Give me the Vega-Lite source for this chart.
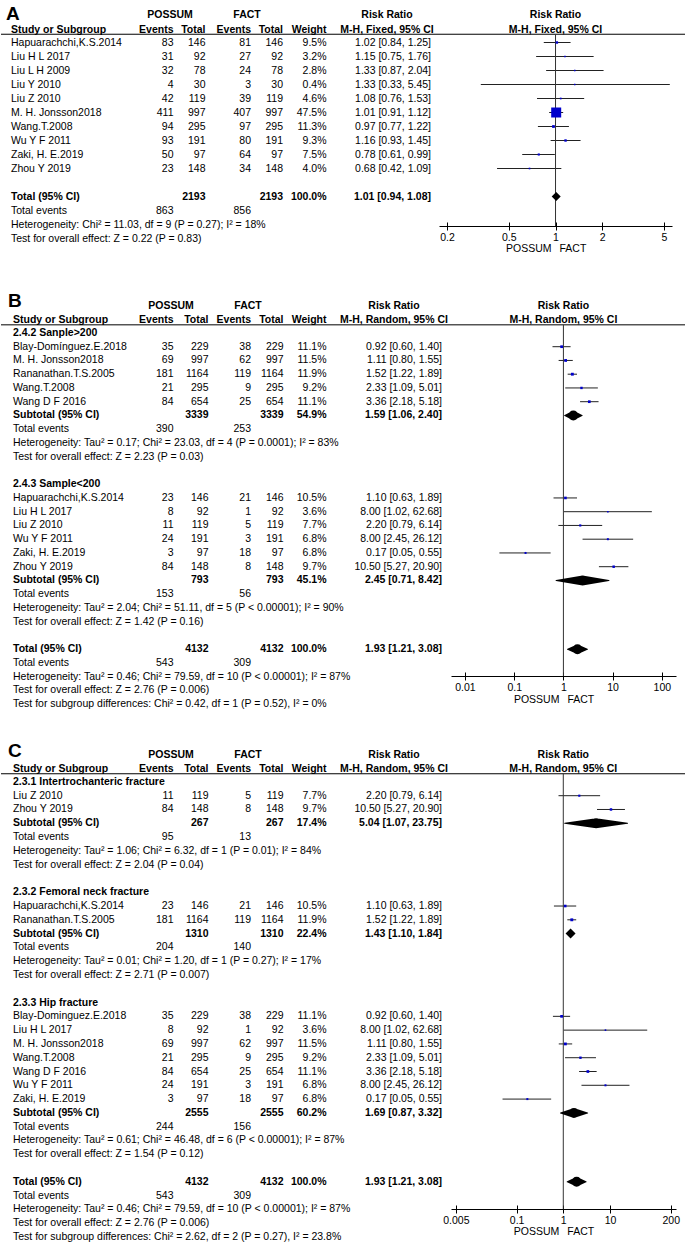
{
  "$schema": "https://vega.github.io/schema/vega-lite/v6.json",
  "padding": 0,
  "spacing": 0,
  "bounds": "flush",
  "datasets": {
    "A": [
      {"r": -0.64, "kind": "letter", "name": "A"},
      {"r": -0.95, "kind": "top", "p": "POSSUM", "f": "FACT", "ci": "Risk Ratio"},
      {"r": 0.08, "kind": "header", "name": "Study or Subgroup", "e1": "Events", "t1": "Total", "e2": "Events", "t2": "Total", "wt": "Weight", "ci": "M-H, Fixed, 95% CI"},
      {"r": 1, "kind": "study", "name": "Hapuarachchi,K.S.2014", "e1": 83, "t1": 146, "e2": 81, "t2": 146, "wt": "9.5%", "w": 0.095, "ci": "1.02 [0.84, 1.25]", "est": 1.02, "lo": 0.84, "hi": 1.25},
      {"r": 2, "kind": "study", "name": "Liu H L 2017", "e1": 31, "t1": 92, "e2": 27, "t2": 92, "wt": "3.2%", "w": 0.032, "ci": "1.15 [0.75, 1.76]", "est": 1.15, "lo": 0.75, "hi": 1.76},
      {"r": 3, "kind": "study", "name": "Liu L H 2009", "e1": 32, "t1": 78, "e2": 24, "t2": 78, "wt": "2.8%", "w": 0.028, "ci": "1.33 [0.87, 2.04]", "est": 1.33, "lo": 0.87, "hi": 2.04},
      {"r": 4, "kind": "study", "name": "Liu Y 2010", "e1": 4, "t1": 30, "e2": 3, "t2": 30, "wt": "0.4%", "w": 0.004, "ci": "1.33 [0.33, 5.45]", "est": 1.33, "lo": 0.33, "hi": 5.45},
      {"r": 5, "kind": "study", "name": "Liu Z 2010", "e1": 42, "t1": 119, "e2": 39, "t2": 119, "wt": "4.6%", "w": 0.046, "ci": "1.08 [0.76, 1.53]", "est": 1.08, "lo": 0.76, "hi": 1.53},
      {"r": 6, "kind": "study", "name": "M. H. Jonsson2018", "e1": 411, "t1": 997, "e2": 407, "t2": 997, "wt": "47.5%", "w": 0.475, "ci": "1.01 [0.91, 1.12]", "est": 1.01, "lo": 0.91, "hi": 1.12},
      {"r": 7, "kind": "study", "name": "Wang.T.2008", "e1": 94, "t1": 295, "e2": 97, "t2": 295, "wt": "11.3%", "w": 0.113, "ci": "0.97 [0.77, 1.22]", "est": 0.97, "lo": 0.77, "hi": 1.22},
      {"r": 8, "kind": "study", "name": "Wu Y F 2011", "e1": 93, "t1": 191, "e2": 80, "t2": 191, "wt": "9.3%", "w": 0.093, "ci": "1.16 [0.93, 1.45]", "est": 1.16, "lo": 0.93, "hi": 1.45},
      {"r": 9, "kind": "study", "name": "Zaki, H. E.2019", "e1": 50, "t1": 97, "e2": 64, "t2": 97, "wt": "7.5%", "w": 0.075, "ci": "0.78 [0.61, 0.99]", "est": 0.78, "lo": 0.61, "hi": 0.99},
      {"r": 10, "kind": "study", "name": "Zhou Y 2019", "e1": 23, "t1": 148, "e2": 34, "t2": 148, "wt": "4.0%", "w": 0.04, "ci": "0.68 [0.42, 1.09]", "est": 0.68, "lo": 0.42, "hi": 1.09},
      {"r": 12, "kind": "total", "name": "Total (95% CI)", "t1": 2193, "t2": 2193, "wt": "100.0%", "ci": "1.01 [0.94, 1.08]", "est": 1.01, "lo": 0.94, "hi": 1.08},
      {"r": 13, "kind": "info", "name": "Total events", "e1": 863, "e2": 856},
      {"r": 14, "kind": "info", "name": "Heterogeneity: Chi² = 11.03, df = 9 (P = 0.27); I² = 18%"},
      {"r": 15, "kind": "info", "name": "Test for overall effect: Z = 0.22 (P = 0.83)"}
    ],
    "B": [
      {"r": -0.92, "kind": "letter", "name": "B"},
      {"r": -0.95, "kind": "top", "p": "POSSUM", "f": "FACT", "ci": "Risk Ratio"},
      {"r": 0.08, "kind": "header", "name": "Study or Subgroup", "e1": "Events", "t1": "Total", "e2": "Events", "t2": "Total", "wt": "Weight", "ci": "M-H, Random, 95% CI"},
      {"r": 1, "kind": "group", "name": "2.4.2 Sanple>200"},
      {"r": 2, "kind": "study", "name": "Blay-Domínguez.E.2018", "e1": 35, "t1": 229, "e2": 38, "t2": 229, "wt": "11.1%", "w": 0.111, "ci": "0.92 [0.60, 1.40]", "est": 0.92, "lo": 0.6, "hi": 1.4},
      {"r": 3, "kind": "study", "name": "M. H. Jonsson2018", "e1": 69, "t1": 997, "e2": 62, "t2": 997, "wt": "11.5%", "w": 0.115, "ci": "1.11 [0.80, 1.55]", "est": 1.11, "lo": 0.8, "hi": 1.55},
      {"r": 4, "kind": "study", "name": "Rananathan.T.S.2005", "e1": 181, "t1": 1164, "e2": 119, "t2": 1164, "wt": "11.9%", "w": 0.119, "ci": "1.52 [1.22, 1.89]", "est": 1.52, "lo": 1.22, "hi": 1.89},
      {"r": 5, "kind": "study", "name": "Wang.T.2008", "e1": 21, "t1": 295, "e2": 9, "t2": 295, "wt": "9.2%", "w": 0.092, "ci": "2.33 [1.09, 5.01]", "est": 2.33, "lo": 1.09, "hi": 5.01},
      {"r": 6, "kind": "study", "name": "Wang D F 2016", "e1": 84, "t1": 654, "e2": 25, "t2": 654, "wt": "11.1%", "w": 0.111, "ci": "3.36 [2.18, 5.18]", "est": 3.36, "lo": 2.18, "hi": 5.18},
      {"r": 7, "kind": "subtotal", "name": "Subtotal (95% CI)", "t1": 3339, "t2": 3339, "wt": "54.9%", "ci": "1.59 [1.06, 2.40]", "est": 1.59, "lo": 1.06, "hi": 2.4},
      {"r": 8, "kind": "info", "name": "Total events", "e1": 390, "e2": 253},
      {"r": 9, "kind": "info", "name": "Heterogeneity: Tau² = 0.17; Chi² = 23.03, df = 4 (P = 0.0001); I² = 83%"},
      {"r": 10, "kind": "info", "name": "Test for overall effect: Z = 2.23 (P = 0.03)"},
      {"r": 12, "kind": "group", "name": "2.4.3 Sample<200"},
      {"r": 13, "kind": "study", "name": "Hapuarachchi,K.S.2014", "e1": 23, "t1": 146, "e2": 21, "t2": 146, "wt": "10.5%", "w": 0.105, "ci": "1.10 [0.63, 1.89]", "est": 1.1, "lo": 0.63, "hi": 1.89},
      {"r": 14, "kind": "study", "name": "Liu H L 2017", "e1": 8, "t1": 92, "e2": 1, "t2": 92, "wt": "3.6%", "w": 0.036, "ci": "8.00 [1.02, 62.68]", "est": 8.0, "lo": 1.02, "hi": 62.68},
      {"r": 15, "kind": "study", "name": "Liu Z 2010", "e1": 11, "t1": 119, "e2": 5, "t2": 119, "wt": "7.7%", "w": 0.077, "ci": "2.20 [0.79, 6.14]", "est": 2.2, "lo": 0.79, "hi": 6.14},
      {"r": 16, "kind": "study", "name": "Wu Y F 2011", "e1": 24, "t1": 191, "e2": 3, "t2": 191, "wt": "6.8%", "w": 0.068, "ci": "8.00 [2.45, 26.12]", "est": 8.0, "lo": 2.45, "hi": 26.12},
      {"r": 17, "kind": "study", "name": "Zaki, H. E.2019", "e1": 3, "t1": 97, "e2": 18, "t2": 97, "wt": "6.8%", "w": 0.068, "ci": "0.17 [0.05, 0.55]", "est": 0.17, "lo": 0.05, "hi": 0.55},
      {"r": 18, "kind": "study", "name": "Zhou Y 2019", "e1": 84, "t1": 148, "e2": 8, "t2": 148, "wt": "9.7%", "w": 0.097, "ci": "10.50 [5.27, 20.90]", "est": 10.5, "lo": 5.27, "hi": 20.9},
      {"r": 19, "kind": "subtotal", "name": "Subtotal (95% CI)", "t1": 793, "t2": 793, "wt": "45.1%", "ci": "2.45 [0.71, 8.42]", "est": 2.45, "lo": 0.71, "hi": 8.42},
      {"r": 20, "kind": "info", "name": "Total events", "e1": 153, "e2": 56},
      {"r": 21, "kind": "info", "name": "Heterogeneity: Tau² = 2.04; Chi² = 51.11, df = 5 (P < 0.00001); I² = 90%"},
      {"r": 22, "kind": "info", "name": "Test for overall effect: Z = 1.42 (P = 0.16)"},
      {"r": 24, "kind": "total", "name": "Total (95% CI)", "t1": 4132, "t2": 4132, "wt": "100.0%", "ci": "1.93 [1.21, 3.08]", "est": 1.93, "lo": 1.21, "hi": 3.08},
      {"r": 25, "kind": "info", "name": "Total events", "e1": 543, "e2": 309},
      {"r": 26, "kind": "info", "name": "Heterogeneity: Tau² = 0.46; Chi² = 79.59, df = 10 (P < 0.00001); I² = 87%"},
      {"r": 27, "kind": "info", "name": "Test for overall effect: Z = 2.76 (P = 0.006)"},
      {"r": 28, "kind": "info", "name": "Test for subgroup differences: Chi² = 0.42, df = 1 (P = 0.52), I² = 0%"}
    ],
    "C": [
      {"r": -0.84, "kind": "letter", "name": "C"},
      {"r": -0.95, "kind": "top", "p": "POSSUM", "f": "FACT", "ci": "Risk Ratio"},
      {"r": 0.08, "kind": "header", "name": "Study or Subgroup", "e1": "Events", "t1": "Total", "e2": "Events", "t2": "Total", "wt": "Weight", "ci": "M-H, Random, 95% CI"},
      {"r": 1, "kind": "group", "name": "2.3.1 Intertrochanteric fracture"},
      {"r": 2, "kind": "study", "name": "Liu Z 2010", "e1": 11, "t1": 119, "e2": 5, "t2": 119, "wt": "7.7%", "w": 0.077, "ci": "2.20 [0.79, 6.14]", "est": 2.2, "lo": 0.79, "hi": 6.14},
      {"r": 3, "kind": "study", "name": "Zhou Y 2019", "e1": 84, "t1": 148, "e2": 8, "t2": 148, "wt": "9.7%", "w": 0.097, "ci": "10.50 [5.27, 20.90]", "est": 10.5, "lo": 5.27, "hi": 20.9},
      {"r": 4, "kind": "subtotal", "name": "Subtotal (95% CI)", "t1": 267, "t2": 267, "wt": "17.4%", "ci": "5.04 [1.07, 23.75]", "est": 5.04, "lo": 1.07, "hi": 23.75},
      {"r": 5, "kind": "info", "name": "Total events", "e1": 95, "e2": 13},
      {"r": 6, "kind": "info", "name": "Heterogeneity: Tau² = 1.06; Chi² = 6.32, df = 1 (P = 0.01); I² = 84%"},
      {"r": 7, "kind": "info", "name": "Test for overall effect: Z = 2.04 (P = 0.04)"},
      {"r": 9, "kind": "group", "name": "2.3.2 Femoral neck fracture"},
      {"r": 10, "kind": "study", "name": "Hapuarachchi,K.S.2014", "e1": 23, "t1": 146, "e2": 21, "t2": 146, "wt": "10.5%", "w": 0.105, "ci": "1.10 [0.63, 1.89]", "est": 1.1, "lo": 0.63, "hi": 1.89},
      {"r": 11, "kind": "study", "name": "Rananathan.T.S.2005", "e1": 181, "t1": 1164, "e2": 119, "t2": 1164, "wt": "11.9%", "w": 0.119, "ci": "1.52 [1.22, 1.89]", "est": 1.52, "lo": 1.22, "hi": 1.89},
      {"r": 12, "kind": "subtotal", "name": "Subtotal (95% CI)", "t1": 1310, "t2": 1310, "wt": "22.4%", "ci": "1.43 [1.10, 1.84]", "est": 1.43, "lo": 1.1, "hi": 1.84},
      {"r": 13, "kind": "info", "name": "Total events", "e1": 204, "e2": 140},
      {"r": 14, "kind": "info", "name": "Heterogeneity: Tau² = 0.01; Chi² = 1.20, df = 1 (P = 0.27); I² = 17%"},
      {"r": 15, "kind": "info", "name": "Test for overall effect: Z = 2.71 (P = 0.007)"},
      {"r": 17, "kind": "group", "name": "2.3.3 Hip fracture"},
      {"r": 18, "kind": "study", "name": "Blay-Dominguez.E.2018", "e1": 35, "t1": 229, "e2": 38, "t2": 229, "wt": "11.1%", "w": 0.111, "ci": "0.92 [0.60, 1.40]", "est": 0.92, "lo": 0.6, "hi": 1.4},
      {"r": 19, "kind": "study", "name": "Liu H L 2017", "e1": 8, "t1": 92, "e2": 1, "t2": 92, "wt": "3.6%", "w": 0.036, "ci": "8.00 [1.02, 62.68]", "est": 8.0, "lo": 1.02, "hi": 62.68},
      {"r": 20, "kind": "study", "name": "M. H. Jonsson2018", "e1": 69, "t1": 997, "e2": 62, "t2": 997, "wt": "11.5%", "w": 0.115, "ci": "1.11 [0.80, 1.55]", "est": 1.11, "lo": 0.8, "hi": 1.55},
      {"r": 21, "kind": "study", "name": "Wang.T.2008", "e1": 21, "t1": 295, "e2": 9, "t2": 295, "wt": "9.2%", "w": 0.092, "ci": "2.33 [1.09, 5.01]", "est": 2.33, "lo": 1.09, "hi": 5.01},
      {"r": 22, "kind": "study", "name": "Wang D F 2016", "e1": 84, "t1": 654, "e2": 25, "t2": 654, "wt": "11.1%", "w": 0.111, "ci": "3.36 [2.18, 5.18]", "est": 3.36, "lo": 2.18, "hi": 5.18},
      {"r": 23, "kind": "study", "name": "Wu Y F 2011", "e1": 24, "t1": 191, "e2": 3, "t2": 191, "wt": "6.8%", "w": 0.068, "ci": "8.00 [2.45, 26.12]", "est": 8.0, "lo": 2.45, "hi": 26.12},
      {"r": 24, "kind": "study", "name": "Zaki, H. E.2019", "e1": 3, "t1": 97, "e2": 18, "t2": 97, "wt": "6.8%", "w": 0.068, "ci": "0.17 [0.05, 0.55]", "est": 0.17, "lo": 0.05, "hi": 0.55},
      {"r": 25, "kind": "subtotal", "name": "Subtotal (95% CI)", "t1": 2555, "t2": 2555, "wt": "60.2%", "ci": "1.69 [0.87, 3.32]", "est": 1.69, "lo": 0.87, "hi": 3.32},
      {"r": 26, "kind": "info", "name": "Total events", "e1": 244, "e2": 156},
      {"r": 27, "kind": "info", "name": "Heterogeneity: Tau² = 0.61; Chi² = 46.48, df = 6 (P < 0.00001); I² = 87%"},
      {"r": 28, "kind": "info", "name": "Test for overall effect: Z = 1.54 (P = 0.12)"},
      {"r": 30, "kind": "total", "name": "Total (95% CI)", "t1": 4132, "t2": 4132, "wt": "100.0%", "ci": "1.93 [1.21, 3.08]", "est": 1.93, "lo": 1.21, "hi": 3.08},
      {"r": 31, "kind": "info", "name": "Total events", "e1": 543, "e2": 309},
      {"r": 32, "kind": "info", "name": "Heterogeneity: Tau² = 0.46; Chi² = 79.59, df = 10 (P < 0.00001); I² = 87%"},
      {"r": 33, "kind": "info", "name": "Test for overall effect: Z = 2.76 (P = 0.006)"},
      {"r": 34, "kind": "info", "name": "Test for subgroup differences: Chi² = 2.62, df = 2 (P = 0.27), I² = 23.8%"}
    ]
  },
  "vconcat": [
    {
      "width": 685, "height": 226,
      "data": {"name": "A"},
      "resolve": {"scale": {"x": "independent"}},
      "layer": [
        {"transform": [{"filter": "datum.kind == 'letter'"}],
         "mark": {"type": "text", "align": "left", "baseline": "alphabetic", "fontSize": 19, "fontWeight": "bold"},
         "encoding": {
           "x": {"datum": "c", "type": "nominal", "scale": {"type": "point", "range": [5, 5]}, "axis": null},
           "y": {"field": "r", "type": "quantitative", "scale": {"domain": [-2.036, 14.107], "reverse": true, "nice": false, "zero": false}, "axis": null},
           "text": {"field": "name", "type": "nominal"}}},
        {"transform": [{"filter": "isValid(datum.name) && datum.kind != 'letter'"}],
         "mark": {"type": "text", "align": "left", "fontWeight": {"expr": "datum.kind == 'study' || datum.kind == 'info' ? 'normal' : 'bold'"}},
         "encoding": {
           "x": {"datum": "c", "type": "nominal", "scale": {"type": "point", "range": [10, 10]}, "axis": null},
           "y": {"field": "r", "type": "quantitative", "axis": null},
           "text": {"field": "name", "type": "nominal"}}},
        {"transform": [{"filter": "datum.kind == 'top'"}, {"fold": ["p", "f"], "as": ["key", "value"]}],
         "mark": {"type": "text", "align": "center", "fontWeight": "bold"},
         "encoding": {
           "x": {"field": "key", "type": "nominal", "scale": {"type": "point", "domain": ["p", "f"], "range": [169, 246], "padding": 0}, "axis": null},
           "y": {"field": "r", "type": "quantitative", "axis": null},
           "text": {"field": "value", "type": "nominal"}}},
        {"transform": [{"filter": "datum.kind == 'top' || datum.kind == 'header'"}],
         "mark": {"type": "text", "align": "center", "fontWeight": "bold"},
         "encoding": {
           "x": {"datum": "c", "type": "nominal", "scale": {"type": "point", "range": [386, 386]}, "axis": null},
           "y": {"field": "r", "type": "quantitative", "axis": null},
           "text": {"field": "ci", "type": "nominal"}}},
        {"transform": [{"fold": ["e1", "t1"], "as": ["key", "value"]}, {"filter": "isValid(datum.value)"}],
         "mark": {"type": "text", "align": "right", "fontWeight": {"expr": "datum.kind == 'study' || datum.kind == 'info' ? 'normal' : 'bold'"}},
         "encoding": {
           "x": {"field": "key", "type": "nominal", "scale": {"type": "point", "domain": ["e1", "t1"], "range": [172.5, 204.5], "padding": 0}, "axis": null},
           "y": {"field": "r", "type": "quantitative", "axis": null},
           "text": {"field": "value", "type": "nominal"}}},
        {"transform": [{"fold": ["e2", "t2"], "as": ["key", "value"]}, {"filter": "isValid(datum.value)"}],
         "mark": {"type": "text", "align": "right", "fontWeight": {"expr": "datum.kind == 'study' || datum.kind == 'info' ? 'normal' : 'bold'"}},
         "encoding": {
           "x": {"field": "key", "type": "nominal", "scale": {"type": "point", "domain": ["e2", "t2"], "range": [250, 282], "padding": 0}, "axis": null},
           "y": {"field": "r", "type": "quantitative", "axis": null},
           "text": {"field": "value", "type": "nominal"}}},
        {"transform": [{"fold": ["wt", "ci"], "as": ["key", "value"]}, {"filter": "isValid(datum.value) && !(datum.key == 'ci' && (datum.kind == 'header' || datum.kind == 'top'))"}],
         "mark": {"type": "text", "align": "right", "fontWeight": {"expr": "datum.kind == 'study' || datum.kind == 'info' ? 'normal' : 'bold'"}},
         "encoding": {
           "x": {"field": "key", "type": "nominal", "scale": {"type": "point", "domain": ["wt", "ci"], "range": [325.5, 430], "padding": 0}, "axis": null},
           "y": {"field": "r", "type": "quantitative", "axis": null},
           "text": {"field": "value", "type": "nominal"}}},
        {"resolve": {"scale": {"size": "independent"}, "axis": {"x": "independent"}},
         "layer": [
          {"data": {"values": [{}]}, "mark": {"type": "rule", "color": "#000", "strokeWidth": 1},
           "encoding": {"y": {"datum": 0.41, "axis": null}}},
          {"transform": [{"filter": "datum.kind == 'study'"}], "mark": {"type": "rule", "color": "#222", "strokeWidth": 1},
           "encoding": {
             "x": {"field": "lo", "type": "quantitative", "scale": {"type": "log", "domain": [0.1775, 5.63], "range": [438, 671], "nice": false},
                   "axis": {"orient": "bottom", "values": [0.2, 0.5, 1, 2, 5], "format": "~g", "title": null, "grid": false, "tickSize": 4, "labelPadding": 2, "domainColor": "#000", "tickColor": "#000", "labelColor": "#000", "labelFontSize": 10.5, "labelFont": "Liberation Sans", "labelFlush": false, "labelOverlap": false}},
             "x2": {"field": "hi"},
             "y": {"field": "r", "type": "quantitative", "axis": null}}},
          {"data": {"values": [{}]}, "mark": {"type": "rule", "color": "#333", "strokeWidth": 1},
           "encoding": {"x": {"datum": 1, "axis": {"orient": "bottom", "values": [0.2, 0.5, 1, 2, 5], "tickSize": -4, "labels": false, "domain": false, "title": null, "grid": false, "tickColor": "#000"}}, "y": {"datum": 0.41, "axis": null}, "y2": {"datum": 14.107}}},
          {"transform": [{"filter": "datum.kind == 'study'"}], "mark": {"type": "point", "shape": "square", "filled": true, "color": "#0000cc", "opacity": 1},
           "encoding": {
             "x": {"field": "est", "type": "quantitative", "axis": null},
             "y": {"field": "r", "type": "quantitative", "axis": null},
             "size": {"field": "w", "type": "quantitative", "scale": {"type": "pow", "exponent": 2, "domain": [0, 0.475], "range": [2, 100]}, "legend": null}}},
          {"transform": [{"filter": "(datum.kind == 'subtotal' || datum.kind == 'total') && datum.hi / datum.lo >= 2"}, {"fold": ["lo", "est", "hi"], "as": ["key", "value"]}],
           "mark": {"type": "trail", "color": "#000"},
           "encoding": {
             "x": {"field": "value", "type": "quantitative", "axis": null},
             "y": {"field": "r", "type": "quantitative", "axis": null},
             "detail": {"field": "r", "type": "nominal"},
             "size": {"field": "key", "type": "ordinal", "scale": {"type": "ordinal", "domain": ["lo", "est", "hi"], "range": [0, 9, 0]}, "legend": null}}},
          {"transform": [{"filter": "(datum.kind == 'subtotal' || datum.kind == 'total') && datum.hi / datum.lo < 2"}],
           "mark": {"type": "point", "shape": "diamond", "filled": true, "color": "#000", "opacity": 1, "size": 81},
           "encoding": {
             "x": {"field": "est", "type": "quantitative", "axis": null},
             "y": {"field": "r", "type": "quantitative", "axis": null}}},
          {"transform": [{"filter": "datum.kind == 'top' || datum.kind == 'header'"}], "mark": {"type": "text", "align": "center", "fontWeight": "bold"},
           "encoding": {"x": {"datum": 1, "axis": null}, "y": {"field": "r", "type": "quantitative", "axis": null}, "text": {"field": "ci", "type": "nominal"}}},
          {"data": {"values": [{}]}, "mark": {"type": "text", "text": "POSSUM", "align": "right", "dx": -4},
           "encoding": {"x": {"datum": 1, "axis": null}, "y": {"datum": 15.75, "axis": null}}},
          {"data": {"values": [{}]}, "mark": {"type": "text", "text": "FACT", "align": "left", "dx": 4},
           "encoding": {"x": {"datum": 1, "axis": null}, "y": {"datum": 15.75, "axis": null}}}
         ]}
      ]
    },
    {
      "width": 685, "height": 450,
      "data": {"name": "B"},
      "resolve": {"scale": {"x": "independent"}},
      "layer": [
        {"transform": [{"filter": "datum.kind == 'letter'"}],
         "mark": {"type": "text", "align": "left", "baseline": "alphabetic", "fontSize": 19, "fontWeight": "bold"},
         "encoding": {
           "x": {"datum": "c", "type": "nominal", "scale": {"type": "point", "range": [7, 7]}, "axis": null},
           "y": {"field": "r", "type": "quantitative", "scale": {"domain": [-6.778, 25.949], "reverse": true, "nice": false, "zero": false}, "axis": null},
           "text": {"field": "name", "type": "nominal"}}},
        {"transform": [{"filter": "isValid(datum.name) && datum.kind != 'letter'"}],
         "mark": {"type": "text", "align": "left", "fontWeight": {"expr": "datum.kind == 'study' || datum.kind == 'info' ? 'normal' : 'bold'"}},
         "encoding": {
           "x": {"datum": "c", "type": "nominal", "scale": {"type": "point", "range": [12, 12]}, "axis": null},
           "y": {"field": "r", "type": "quantitative", "axis": null},
           "text": {"field": "name", "type": "nominal"}}},
        {"transform": [{"filter": "datum.kind == 'top'"}, {"fold": ["p", "f"], "as": ["key", "value"]}],
         "mark": {"type": "text", "align": "center", "fontWeight": "bold"},
         "encoding": {
           "x": {"field": "key", "type": "nominal", "scale": {"type": "point", "domain": ["p", "f"], "range": [170, 247], "padding": 0}, "axis": null},
           "y": {"field": "r", "type": "quantitative", "axis": null},
           "text": {"field": "value", "type": "nominal"}}},
        {"transform": [{"filter": "datum.kind == 'top' || datum.kind == 'header'"}],
         "mark": {"type": "text", "align": "center", "fontWeight": "bold"},
         "encoding": {
           "x": {"datum": "c", "type": "nominal", "scale": {"type": "point", "range": [393, 393]}, "axis": null},
           "y": {"field": "r", "type": "quantitative", "axis": null},
           "text": {"field": "ci", "type": "nominal"}}},
        {"transform": [{"fold": ["e1", "t1"], "as": ["key", "value"]}, {"filter": "isValid(datum.value)"}],
         "mark": {"type": "text", "align": "right", "fontWeight": {"expr": "datum.kind == 'study' || datum.kind == 'info' ? 'normal' : 'bold'"}},
         "encoding": {
           "x": {"field": "key", "type": "nominal", "scale": {"type": "point", "domain": ["e1", "t1"], "range": [172.5, 207.5], "padding": 0}, "axis": null},
           "y": {"field": "r", "type": "quantitative", "axis": null},
           "text": {"field": "value", "type": "nominal"}}},
        {"transform": [{"fold": ["e2", "t2"], "as": ["key", "value"]}, {"filter": "isValid(datum.value)"}],
         "mark": {"type": "text", "align": "right", "fontWeight": {"expr": "datum.kind == 'study' || datum.kind == 'info' ? 'normal' : 'bold'"}},
         "encoding": {
           "x": {"field": "key", "type": "nominal", "scale": {"type": "point", "domain": ["e2", "t2"], "range": [250, 282.5], "padding": 0}, "axis": null},
           "y": {"field": "r", "type": "quantitative", "axis": null},
           "text": {"field": "value", "type": "nominal"}}},
        {"transform": [{"fold": ["wt", "ci"], "as": ["key", "value"]}, {"filter": "isValid(datum.value) && !(datum.key == 'ci' && (datum.kind == 'header' || datum.kind == 'top'))"}],
         "mark": {"type": "text", "align": "right", "fontWeight": {"expr": "datum.kind == 'study' || datum.kind == 'info' ? 'normal' : 'bold'"}},
         "encoding": {
           "x": {"field": "key", "type": "nominal", "scale": {"type": "point", "domain": ["wt", "ci"], "range": [325.5, 441], "padding": 0}, "axis": null},
           "y": {"field": "r", "type": "quantitative", "axis": null},
           "text": {"field": "value", "type": "nominal"}}},
        {"resolve": {"scale": {"size": "independent"}, "axis": {"x": "independent"}},
         "layer": [
          {"data": {"values": [{}]}, "mark": {"type": "rule", "color": "#000", "strokeWidth": 1},
           "encoding": {"y": {"datum": 0.41, "axis": null}}},
          {"transform": [{"filter": "datum.kind == 'study'"}], "mark": {"type": "rule", "color": "#222", "strokeWidth": 1},
           "encoding": {
             "x": {"field": "lo", "type": "quantitative", "scale": {"type": "log", "domain": [0.0052, 194], "range": [450, 675], "nice": false},
                   "axis": {"orient": "bottom", "values": [0.01, 0.1, 1, 10, 100], "format": "~g", "title": null, "grid": false, "tickSize": 4, "labelPadding": 2, "domainColor": "#000", "tickColor": "#000", "labelColor": "#000", "labelFontSize": 10.5, "labelFont": "Liberation Sans", "labelFlush": false, "labelOverlap": false}},
             "x2": {"field": "hi"},
             "y": {"field": "r", "type": "quantitative", "axis": null}}},
          {"data": {"values": [{}]}, "mark": {"type": "rule", "color": "#333", "strokeWidth": 1},
           "encoding": {"x": {"datum": 1, "axis": {"orient": "bottom", "values": [0.01, 0.1, 1, 10, 100], "tickSize": -4, "labels": false, "domain": false, "title": null, "grid": false, "tickColor": "#000"}}, "y": {"datum": 0.41, "axis": null}, "y2": {"datum": 25.949}}},
          {"transform": [{"filter": "datum.kind == 'study'"}], "mark": {"type": "point", "shape": "square", "filled": true, "color": "#0000cc", "opacity": 1},
           "encoding": {
             "x": {"field": "est", "type": "quantitative", "axis": null},
             "y": {"field": "r", "type": "quantitative", "axis": null},
             "size": {"field": "w", "type": "quantitative", "scale": {"type": "pow", "exponent": 2, "domain": [0, 0.475], "range": [2, 100]}, "legend": null}}},
          {"transform": [{"filter": "(datum.kind == 'subtotal' || datum.kind == 'total') && datum.hi / datum.lo >= 2"}, {"fold": ["lo", "est", "hi"], "as": ["key", "value"]}],
           "mark": {"type": "trail", "color": "#000"},
           "encoding": {
             "x": {"field": "value", "type": "quantitative", "axis": null},
             "y": {"field": "r", "type": "quantitative", "axis": null},
             "detail": {"field": "r", "type": "nominal"},
             "size": {"field": "key", "type": "ordinal", "scale": {"type": "ordinal", "domain": ["lo", "est", "hi"], "range": [0, 10, 0]}, "legend": null}}},
          {"transform": [{"filter": "(datum.kind == 'subtotal' || datum.kind == 'total') && datum.hi / datum.lo < 2"}],
           "mark": {"type": "point", "shape": "diamond", "filled": true, "color": "#000", "opacity": 1, "size": 100},
           "encoding": {
             "x": {"field": "est", "type": "quantitative", "axis": null},
             "y": {"field": "r", "type": "quantitative", "axis": null}}},
          {"transform": [{"filter": "datum.kind == 'top' || datum.kind == 'header'"}], "mark": {"type": "text", "align": "center", "fontWeight": "bold"},
           "encoding": {"x": {"datum": 1, "axis": null}, "y": {"field": "r", "type": "quantitative", "axis": null}, "text": {"field": "ci", "type": "nominal"}}},
          {"data": {"values": [{}]}, "mark": {"type": "text", "text": "POSSUM", "align": "right", "dx": -4},
           "encoding": {"x": {"datum": 1, "axis": null}, "y": {"datum": 27.69, "axis": null}}},
          {"data": {"values": [{}]}, "mark": {"type": "text", "text": "FACT", "align": "left", "dx": 4},
           "encoding": {"x": {"datum": 1, "axis": null}, "y": {"datum": 27.69, "axis": null}}}
         ]}
      ]
    },
    {
      "width": 685, "height": 533,
      "data": {"name": "C"},
      "resolve": {"scale": {"x": "independent"}},
      "layer": [
        {"transform": [{"filter": "datum.kind == 'letter'"}],
         "mark": {"type": "text", "align": "left", "baseline": "alphabetic", "fontSize": 19, "fontWeight": "bold"},
         "encoding": {
           "x": {"datum": "c", "type": "nominal", "scale": {"type": "point", "range": [7, 7]}, "axis": null},
           "y": {"field": "r", "type": "quantitative", "scale": {"domain": [-6.679, 31.97], "reverse": true, "nice": false, "zero": false}, "axis": null},
           "text": {"field": "name", "type": "nominal"}}},
        {"transform": [{"filter": "isValid(datum.name) && datum.kind != 'letter'"}],
         "mark": {"type": "text", "align": "left", "fontWeight": {"expr": "datum.kind == 'study' || datum.kind == 'info' ? 'normal' : 'bold'"}},
         "encoding": {
           "x": {"datum": "c", "type": "nominal", "scale": {"type": "point", "range": [12, 12]}, "axis": null},
           "y": {"field": "r", "type": "quantitative", "axis": null},
           "text": {"field": "name", "type": "nominal"}}},
        {"transform": [{"filter": "datum.kind == 'top'"}, {"fold": ["p", "f"], "as": ["key", "value"]}],
         "mark": {"type": "text", "align": "center", "fontWeight": "bold"},
         "encoding": {
           "x": {"field": "key", "type": "nominal", "scale": {"type": "point", "domain": ["p", "f"], "range": [170, 247], "padding": 0}, "axis": null},
           "y": {"field": "r", "type": "quantitative", "axis": null},
           "text": {"field": "value", "type": "nominal"}}},
        {"transform": [{"filter": "datum.kind == 'top' || datum.kind == 'header'"}],
         "mark": {"type": "text", "align": "center", "fontWeight": "bold"},
         "encoding": {
           "x": {"datum": "c", "type": "nominal", "scale": {"type": "point", "range": [393, 393]}, "axis": null},
           "y": {"field": "r", "type": "quantitative", "axis": null},
           "text": {"field": "ci", "type": "nominal"}}},
        {"transform": [{"fold": ["e1", "t1"], "as": ["key", "value"]}, {"filter": "isValid(datum.value)"}],
         "mark": {"type": "text", "align": "right", "fontWeight": {"expr": "datum.kind == 'study' || datum.kind == 'info' ? 'normal' : 'bold'"}},
         "encoding": {
           "x": {"field": "key", "type": "nominal", "scale": {"type": "point", "domain": ["e1", "t1"], "range": [172.5, 207.5], "padding": 0}, "axis": null},
           "y": {"field": "r", "type": "quantitative", "axis": null},
           "text": {"field": "value", "type": "nominal"}}},
        {"transform": [{"fold": ["e2", "t2"], "as": ["key", "value"]}, {"filter": "isValid(datum.value)"}],
         "mark": {"type": "text", "align": "right", "fontWeight": {"expr": "datum.kind == 'study' || datum.kind == 'info' ? 'normal' : 'bold'"}},
         "encoding": {
           "x": {"field": "key", "type": "nominal", "scale": {"type": "point", "domain": ["e2", "t2"], "range": [250, 282.5], "padding": 0}, "axis": null},
           "y": {"field": "r", "type": "quantitative", "axis": null},
           "text": {"field": "value", "type": "nominal"}}},
        {"transform": [{"fold": ["wt", "ci"], "as": ["key", "value"]}, {"filter": "isValid(datum.value) && !(datum.key == 'ci' && (datum.kind == 'header' || datum.kind == 'top'))"}],
         "mark": {"type": "text", "align": "right", "fontWeight": {"expr": "datum.kind == 'study' || datum.kind == 'info' ? 'normal' : 'bold'"}},
         "encoding": {
           "x": {"field": "key", "type": "nominal", "scale": {"type": "point", "domain": ["wt", "ci"], "range": [325.5, 441], "padding": 0}, "axis": null},
           "y": {"field": "r", "type": "quantitative", "axis": null},
           "text": {"field": "value", "type": "nominal"}}},
        {"resolve": {"scale": {"size": "independent"}, "axis": {"x": "independent"}},
         "layer": [
          {"data": {"values": [{}]}, "mark": {"type": "rule", "color": "#000", "strokeWidth": 1},
           "encoding": {"y": {"datum": 0.41, "axis": null}}},
          {"transform": [{"filter": "datum.kind == 'study'"}], "mark": {"type": "rule", "color": "#222", "strokeWidth": 1},
           "encoding": {
             "x": {"field": "lo", "type": "quantitative", "scale": {"type": "log", "domain": [0.00394, 259], "range": [450, 675], "nice": false},
                   "axis": {"orient": "bottom", "values": [0.005, 0.1, 1, 10, 200], "format": "~g", "title": null, "grid": false, "tickSize": 4, "labelPadding": 2, "domainColor": "#000", "tickColor": "#000", "labelColor": "#000", "labelFontSize": 10.5, "labelFont": "Liberation Sans", "labelFlush": false, "labelOverlap": false}},
             "x2": {"field": "hi"},
             "y": {"field": "r", "type": "quantitative", "axis": null}}},
          {"data": {"values": [{}]}, "mark": {"type": "rule", "color": "#333", "strokeWidth": 1},
           "encoding": {"x": {"datum": 1, "axis": {"orient": "bottom", "values": [0.005, 0.1, 1, 10, 200], "tickSize": -4, "labels": false, "domain": false, "title": null, "grid": false, "tickColor": "#000"}}, "y": {"datum": 0.41, "axis": null}, "y2": {"datum": 31.97}}},
          {"transform": [{"filter": "datum.kind == 'study'"}], "mark": {"type": "point", "shape": "square", "filled": true, "color": "#0000cc", "opacity": 1},
           "encoding": {
             "x": {"field": "est", "type": "quantitative", "axis": null},
             "y": {"field": "r", "type": "quantitative", "axis": null},
             "size": {"field": "w", "type": "quantitative", "scale": {"type": "pow", "exponent": 2, "domain": [0, 0.475], "range": [2, 100]}, "legend": null}}},
          {"transform": [{"filter": "(datum.kind == 'subtotal' || datum.kind == 'total') && datum.hi / datum.lo >= 2"}, {"fold": ["lo", "est", "hi"], "as": ["key", "value"]}],
           "mark": {"type": "trail", "color": "#000"},
           "encoding": {
             "x": {"field": "value", "type": "quantitative", "axis": null},
             "y": {"field": "r", "type": "quantitative", "axis": null},
             "detail": {"field": "r", "type": "nominal"},
             "size": {"field": "key", "type": "ordinal", "scale": {"type": "ordinal", "domain": ["lo", "est", "hi"], "range": [0, 10, 0]}, "legend": null}}},
          {"transform": [{"filter": "(datum.kind == 'subtotal' || datum.kind == 'total') && datum.hi / datum.lo < 2"}],
           "mark": {"type": "point", "shape": "diamond", "filled": true, "color": "#000", "opacity": 1, "size": 100},
           "encoding": {
             "x": {"field": "est", "type": "quantitative", "axis": null},
             "y": {"field": "r", "type": "quantitative", "axis": null}}},
          {"transform": [{"filter": "datum.kind == 'top' || datum.kind == 'header'"}], "mark": {"type": "text", "align": "center", "fontWeight": "bold"},
           "encoding": {"x": {"datum": 1, "axis": null}, "y": {"field": "r", "type": "quantitative", "axis": null}, "text": {"field": "ci", "type": "nominal"}}},
          {"data": {"values": [{}]}, "mark": {"type": "text", "text": "POSSUM", "align": "right", "dx": -4},
           "encoding": {"x": {"datum": 1, "axis": null}, "y": {"datum": 33.64, "axis": null}}},
          {"data": {"values": [{}]}, "mark": {"type": "text", "text": "FACT", "align": "left", "dx": 4},
           "encoding": {"x": {"datum": 1, "axis": null}, "y": {"datum": 33.64, "axis": null}}}
         ]}
      ]
    }
  ],
  "resolve": {"scale": {"x": "independent", "y": "independent", "size": "independent"}},
  "config": {
    "view": {"stroke": null},
    "text": {"font": "Liberation Sans", "fontSize": 10.5, "baseline": "middle", "color": "#000"}
  }
}
